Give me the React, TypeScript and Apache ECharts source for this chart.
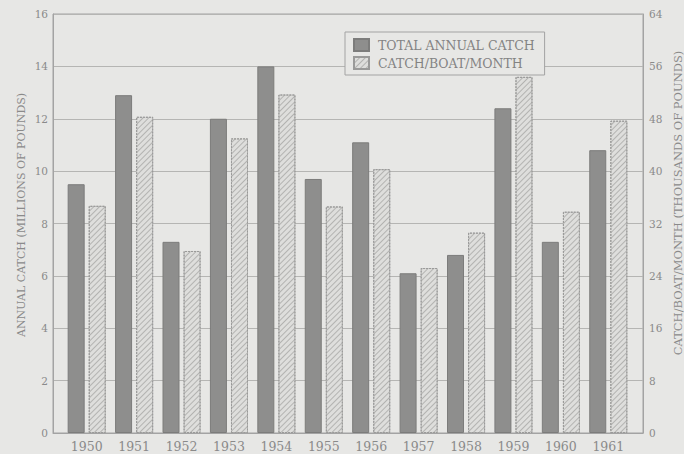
import React, { useEffect, useRef } from "react";
import * as echarts from "echarts";

// Annual catch, 1950–1961
const years = ["1950", "1951", "1952", "1953", "1954", "1955", "1956", "1957", "1958", "1959", "1960", "1961"];
// millions of pounds (left axis)
const totalAnnualCatch = [9.5, 12.9, 7.3, 12.0, 14.0, 9.7, 11.1, 6.1, 6.8, 12.4, 7.3, 10.8];
// thousands of pounds (right axis)
const catchPerBoatMonth = [34.7, 48.3, 27.8, 45.0, 51.7, 34.6, 40.3, 25.2, 30.6, 54.4, 33.8, 47.7];

const leftTitle = "ANNUAL CATCH (MILLIONS OF POUNDS)";
const rightTitle = "CATCH/BOAT/MONTH (THOUSANDS OF POUNDS)";

const FONT = "'DejaVu Serif', 'Liberation Serif', serif";
const TEXT = "#8a8a8a";
const LINE = "#a3a3a3";

export default function App() {
  const ref = useRef<HTMLDivElement>(null);

  useEffect(() => {
    if (!ref.current) return;
    const chart = echarts.init(ref.current, null, { renderer: "svg" });
    chart.setOption({
      animation: false,
      backgroundColor: "#e7e7e5",
      textStyle: { fontFamily: FONT },
      grid: [
        // frame + value axes
        { left: 53, right: 41, top: 14, bottom: 21, show: true, borderColor: LINE, borderWidth: 1, backgroundColor: "transparent" },
        // bars, inset from the frame
        { left: 63, right: 52, top: 14, bottom: 21 },
      ],
      legend: {
        left: 345,
        top: 32,
        orient: "vertical",
        icon: "rect",
        itemWidth: 15,
        itemHeight: 12,
        itemGap: 4,
        padding: [6, 10, 5, 8],
        borderColor: LINE,
        borderWidth: 1,
        backgroundColor: "#e7e7e5",
        textStyle: { fontFamily: FONT, fontSize: 12.5, color: "#838383", padding: [0, 0, 0, 4] },
        data: ["TOTAL ANNUAL CATCH", "CATCH/BOAT/MONTH"],
      },
      xAxis: [
        {
          gridIndex: 0,
          type: "value",
          min: 0,
          max: 1,
          axisLine: { show: true, lineStyle: { color: LINE } },
          axisTick: { show: false },
          axisLabel: { show: false },
          splitLine: { show: false },
        },
        {
          gridIndex: 1,
          type: "category",
          data: years,
          axisLine: { show: false },
          axisTick: { show: false },
          axisLabel: { fontFamily: FONT, fontSize: 12.5, color: TEXT, margin: 7 },
        },
      ],
      yAxis: [
        {
          gridIndex: 0,
          type: "value",
          position: "left",
          min: 0,
          max: 16,
          interval: 2,
          axisLine: { show: true, lineStyle: { color: LINE } },
          axisTick: { show: false },
          axisLabel: { fontFamily: FONT, fontSize: 10.5, color: TEXT, margin: 5 },
          splitLine: { show: true, lineStyle: { color: "#b5b5b3", width: 1 } },
        },
        {
          gridIndex: 0,
          type: "value",
          position: "right",
          min: 0,
          max: 64,
          interval: 8,
          axisLine: { show: true, lineStyle: { color: LINE } },
          axisTick: { show: false },
          axisLabel: { fontFamily: FONT, fontSize: 10.5, color: TEXT, margin: 6 },
          splitLine: { show: false },
        },
        { gridIndex: 1, type: "value", min: 0, max: 16, show: false, splitLine: { show: false } },
        { gridIndex: 1, type: "value", min: 0, max: 64, show: false, splitLine: { show: false } },
      ],
      series: [
        {
          name: "TOTAL ANNUAL CATCH",
          type: "bar",
          xAxisIndex: 1,
          yAxisIndex: 2,
          data: totalAnnualCatch,
          barWidth: 17,
          barGap: "24%",
          itemStyle: { color: "#8e8e8d", borderColor: "#7c7c7b", borderWidth: 1 },
        },
        {
          name: "CATCH/BOAT/MONTH",
          type: "bar",
          xAxisIndex: 1,
          yAxisIndex: 3,
          data: catchPerBoatMonth,
          barWidth: 17,
          itemStyle: {
            color: "#dededc",
            borderColor: "#9a9a99",
            borderWidth: 1,
            borderType: [2, 1],
            decal: {
              symbol: "rect",
              symbolSize: 1,
              dashArrayX: [1, 0],
              dashArrayY: [1, 3],
              rotation: -Math.PI / 4,
              color: "#b3b3b1",
            },
          },
        },
      ],
      graphic: [
        {
          type: "text",
          x: 21,
          y: 215,
          rotation: Math.PI / 2,
          style: { text: leftTitle, fontFamily: FONT, fontSize: 11, fill: TEXT, align: "center", verticalAlign: "middle" },
        },
        {
          type: "text",
          x: 678,
          y: 203,
          rotation: Math.PI / 2,
          style: { text: rightTitle, fontFamily: FONT, fontSize: 11.5, fill: TEXT, align: "center", verticalAlign: "middle" },
        },
      ],
    });
    return () => chart.dispose();
  }, []);

  return <div ref={ref} style={{ width: 684, height: 454, position: "absolute", left: 0, top: 0 }} />;
}
